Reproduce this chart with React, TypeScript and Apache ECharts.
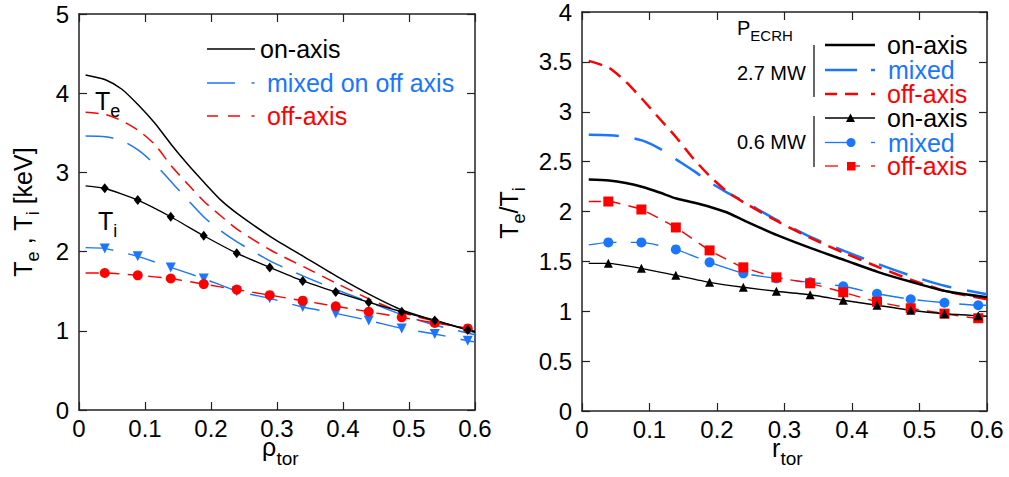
import React, { useEffect, useRef } from 'react';
import * as echarts from 'echarts';

const BLUE = '#1a75ff';
const RED = '#ff0000';
const BLACK = '#000000';
const AXIS = '#222222';
const FONT = '"Liberation Sans", Arial, Helvetica, sans-serif';

// ---- Left panel: Te, Ti [keV] vs rho_tor ----
const rhoSmooth = [0.01, 0.04, 0.065, 0.09, 0.115, 0.14, 0.165, 0.19, 0.215, 0.24, 0.29, 0.34, 0.39, 0.44, 0.49, 0.54, 0.6];
const teOnAxis = [4.23, 4.17, 4.05, 3.85, 3.62, 3.35, 3.1, 2.87, 2.65, 2.48, 2.19, 1.94, 1.69, 1.46, 1.26, 1.13, 0.99];
const teMixed = [3.46, 3.45, 3.4, 3.28, 3.1, 2.88, 2.65, 2.43, 2.26, 2.12, 1.88, 1.69, 1.52, 1.36, 1.2, 1.07, 0.95];
const teOffAxis = [3.76, 3.73, 3.65, 3.53, 3.35, 3.08, 2.85, 2.63, 2.45, 2.28, 2.02, 1.81, 1.6, 1.4, 1.23, 1.12, 1.0];

// profile start, measurement positions, profile end
const rhoMarked = [0.01, 0.039, 0.089, 0.139, 0.189, 0.239, 0.289, 0.339, 0.389, 0.439, 0.489, 0.539, 0.589, 0.6];
const tiOnAxis = [2.83, 2.8, 2.65, 2.44, 2.2, 1.98, 1.8, 1.63, 1.49, 1.36, 1.24, 1.13, 1.01, 0.98];
const tiMixed = [2.05, 2.04, 1.94, 1.8, 1.66, 1.5, 1.41, 1.3, 1.22, 1.13, 1.03, 0.96, 0.875, 0.86];
const tiOffAxis = [1.73, 1.73, 1.7, 1.66, 1.59, 1.52, 1.45, 1.38, 1.31, 1.24, 1.17, 1.1, 1.03, 1.02];

// ---- Right panel: Te/Ti vs r_tor ----
const rSmooth = [0.01, 0.04, 0.065, 0.09, 0.115, 0.14, 0.165, 0.19, 0.215, 0.24, 0.29, 0.34, 0.39, 0.44, 0.49, 0.54, 0.6];
const ratioHighOn = [2.32, 2.31, 2.285, 2.245, 2.19, 2.13, 2.09, 2.045, 1.99, 1.91, 1.76, 1.63, 1.51, 1.39, 1.29, 1.2, 1.14];
const ratioHighMixed = [2.77, 2.765, 2.75, 2.71, 2.63, 2.52, 2.41, 2.29, 2.19, 2.1, 1.91, 1.74, 1.6, 1.47, 1.35, 1.25, 1.17];
const ratioHighOff = [3.51, 3.44, 3.3, 3.12, 2.93, 2.74, 2.53, 2.35, 2.2, 2.09, 1.9, 1.73, 1.58, 1.44, 1.31, 1.2, 1.12];

const rMarked = [0.01, 0.039, 0.088, 0.139, 0.189, 0.239, 0.288, 0.338, 0.387, 0.437, 0.487, 0.537, 0.587, 0.6];
const ratioLowOn = [1.48, 1.48, 1.43, 1.36, 1.29, 1.24, 1.2, 1.165, 1.11, 1.06, 1.01, 0.975, 0.955, 0.95];
const ratioLowMixed = [1.665, 1.69, 1.69, 1.62, 1.49, 1.38, 1.33, 1.29, 1.25, 1.175, 1.12, 1.085, 1.06, 1.06];
const ratioLowOff = [2.1, 2.1, 2.02, 1.84, 1.61, 1.44, 1.34, 1.28, 1.19, 1.095, 1.03, 0.976, 0.93, 0.93];

const leftXTicks = { min: 0, max: 0.6, interval: 0.1 };
const leftYTicks = { min: 0, max: 5, interval: 1 };
const rightXTicks = { min: 0, max: 0.6, interval: 0.1 };
const rightYTicks = { min: 0, max: 4, interval: 0.5 };

const pairs = (xs: number[], ys: number[]) => xs.map((x, i) => [x, ys[i]]);
// first and last points continue the curve but carry no marker
const marked = (xs: number[], ys: number[]) =>
  xs.map((x, i) => (i === 0 || i === xs.length - 1 ? { value: [x, ys[i]], symbol: 'none' } : [x, ys[i]]));

const fmt = (v: number) => String(+v.toFixed(1));

function makeAxis(kind: 'x' | 'y', gridIndex: number, position: string, ticks: any, showLabel: boolean) {
  return {
    type: 'value',
    gridIndex,
    position,
    min: ticks.min,
    max: ticks.max,
    interval: ticks.interval,
    axisLine: { show: true, onZero: false, lineStyle: { color: AXIS, width: 1.5 } },
    axisTick: { show: true, inside: true, length: 8, lineStyle: { color: AXIS, width: 1.2 } },
    axisLabel: {
      show: showLabel,
      color: BLACK,
      fontSize: 24,
      fontFamily: FONT,
      lineHeight: 20,
      margin: kind === 'x' ? 8 : 10,
      formatter: fmt,
    },
    splitLine: { show: false },
  };
}

function lineSeries(xIdx: number, yIdx: number, data: any[], color: string, width: number, dash: any, extra: any = {}) {
  return {
    type: 'line',
    xAxisIndex: xIdx,
    yAxisIndex: yIdx,
    data,
    smooth: 0.25,
    symbol: 'none',
    silent: true,
    lineStyle: { color, width, type: dash },
    itemStyle: { color },
    ...extra,
  };
}

const seg = (x1: number, y1: number, x2: number, y2: number, color: string, w: number) => ({
  type: 'line',
  silent: true,
  shape: { x1, y1, x2, y2 },
  style: { stroke: color, lineWidth: w },
});

const txt = (text: string, x: number, y: number, color: string, size: number, lineHeight = 22) => ({
  type: 'text',
  silent: true,
  x,
  y,
  style: { text, fill: color, fontSize: size, fontFamily: FONT, align: 'left', verticalAlign: 'middle', lineHeight },
});

// text with a subscript: main font, subscript font and the line height that sets the drop
const subText = (
  text: string, x: number, y: number, mainSize: number, subSize: number, lineH: number,
  align: string = 'left', rotation = 0,
) => ({
  type: 'text',
  silent: true,
  x,
  y,
  rotation,
  style: {
    text,
    fill: BLACK,
    fontFamily: FONT,
    align,
    verticalAlign: 'middle',
    rich: {
      m: { fontSize: mainSize, fontFamily: FONT, fill: BLACK, color: BLACK, lineHeight: lineH, verticalAlign: 'middle' },
      s: { fontSize: subSize, fontFamily: FONT, fill: BLACK, color: BLACK, lineHeight: subSize, verticalAlign: 'bottom' },
    },
  },
});

export default function App() {
  const ref = useRef<HTMLDivElement>(null);

  useEffect(() => {
    if (!ref.current) return;
    const chart = echarts.init(ref.current, undefined, { renderer: 'svg' });

    const longDash = [28, 15];
    const shortDash = [13, 8];

    const option: any = {
      animation: false,
      backgroundColor: '#ffffff',
      grid: [
        { left: 79, top: 14, width: 396, height: 396, containLabel: false },
        { left: 582, top: 8, width: 405, height: 403, containLabel: false },
      ],
      xAxis: [
        makeAxis('x', 0, 'bottom', leftXTicks, true),
        makeAxis('x', 0, 'top', leftXTicks, false),
        makeAxis('x', 1, 'bottom', rightXTicks, true),
        makeAxis('x', 1, 'top', rightXTicks, false),
      ],
      yAxis: [
        makeAxis('y', 0, 'left', leftYTicks, true),
        makeAxis('y', 0, 'right', leftYTicks, false),
        makeAxis('y', 1, 'left', rightYTicks, true),
        makeAxis('y', 1, 'right', rightYTicks, false),
      ],
      series: [
        // left: electron temperature
        lineSeries(0, 0, pairs(rhoSmooth, teMixed), BLUE, 1.5, longDash),
        lineSeries(0, 0, pairs(rhoSmooth, teOffAxis), RED, 1.5, shortDash),
        lineSeries(0, 0, pairs(rhoSmooth, teOnAxis), BLACK, 1.5, 'solid'),
        // left: ion temperature
        lineSeries(0, 0, marked(rhoMarked, tiMixed), BLUE, 1.4, longDash, {
          symbol: 'triangle', symbolRotate: 180, symbolSize: 10, showSymbol: true, smooth: 0.15,
        }),
        lineSeries(0, 0, marked(rhoMarked, tiOffAxis), RED, 1.4, shortDash, {
          symbol: 'circle', symbolSize: 10, showSymbol: true, smooth: 0.15,
        }),
        lineSeries(0, 0, marked(rhoMarked, tiOnAxis), BLACK, 1.4, 'solid', {
          symbol: 'diamond', symbolSize: [8, 10], showSymbol: true, smooth: 0.15,
        }),
        // right: 2.7 MW
        lineSeries(2, 2, pairs(rSmooth, ratioHighMixed), BLUE, 2.5, [30, 16]),
        lineSeries(2, 2, pairs(rSmooth, ratioHighOff), RED, 2.5, [14, 8]),
        lineSeries(2, 2, pairs(rSmooth, ratioHighOn), BLACK, 2.5, 'solid'),
        // right: 0.6 MW
        lineSeries(2, 2, marked(rMarked, ratioLowMixed), BLUE, 1.4, [28, 14], {
          symbol: 'circle', symbolSize: 10, showSymbol: true, smooth: 0.15,
        }),
        lineSeries(2, 2, marked(rMarked, ratioLowOff), RED, 1.4, [12, 8], {
          symbol: 'rect', symbolSize: 10, showSymbol: true, smooth: 0.15,
        }),
        lineSeries(2, 2, marked(rMarked, ratioLowOn), BLACK, 1.4, 'solid', {
          symbol: 'triangle', symbolSize: 9, showSymbol: true, smooth: 0.15,
        }),
      ],
      graphic: [
        // left legend
        seg(207, 49, 255, 49, BLACK, 1.5),
        txt('on-axis', 260, 49, BLACK, 25),
        seg(207, 83, 235, 83, BLUE, 1.5),
        seg(251.5, 83, 254.5, 83, BLUE, 1.5),
        txt('mixed on off axis', 267, 83, BLUE, 25),
        seg(207, 116, 218, 116, RED, 1.5),
        seg(228, 116, 240, 116, RED, 1.5),
        seg(251.5, 116, 254.5, 116, RED, 1.5),
        txt('off-axis', 267, 116, RED, 25),
        // curve annotations
        subText('{m|T}{s|e}', 95, 101, 25, 18, 38),
        subText('{m|T}{s|i}', 98, 221, 25, 18, 38),
        // left axis titles
        txt('ρ', 262, 447, BLACK, 25, 18),
        txt('tor', 276.5, 458, BLACK, 19, 15),
        subText('{m|T}{s|e}{m| , T}{s|i}{m| [keV]}', 23, 212, 25, 18, 38, 'center', Math.PI / 2),
        // right axis titles
        txt('r', 772, 448, BLACK, 25, 18),
        txt('tor', 780.5, 458, BLACK, 19, 15),
        subText('{m|T}{s|e}{m|/T}{s|i}', 509, 213, 25, 18, 38, 'center', Math.PI / 2),
        // right legend
        subText('{m|P}{s|ECRH}', 737, 28, 20, 15, 29),
        txt('2.7 MW', 737, 73, BLACK, 20),
        txt('0.6 MW', 737, 142, BLACK, 20),
        seg(814, 45, 814, 97, BLACK, 1.2),
        seg(814, 116, 814, 167, BLACK, 1.2),
        seg(825, 45, 875, 45, BLACK, 2.5),
        txt('on-axis', 887, 45, BLACK, 25),
        seg(825, 70, 857, 70, BLUE, 2.5),
        seg(871, 70, 875, 70, BLUE, 2.5),
        txt('mixed', 888, 70, BLUE, 25),
        seg(825, 94, 837, 94, RED, 2.5),
        seg(845, 94, 858, 94, RED, 2.5),
        seg(871, 94, 875, 94, RED, 2.5),
        txt('off-axis', 887, 94, RED, 25),
        seg(825, 118, 875, 118, BLACK, 1.3),
        { type: 'polygon', silent: true, shape: { points: [[850.5, 113.5], [846, 122], [855, 122]] }, style: { fill: BLACK } },
        txt('on-axis', 887, 118, BLACK, 25),
        seg(825, 142.5, 851, 142.5, BLUE, 1.3),
        { type: 'circle', silent: true, shape: { cx: 851, cy: 142.5, r: 4.5 }, style: { fill: BLUE } },
        seg(871, 142.5, 875, 142.5, BLUE, 1.3),
        txt('mixed', 888, 142.5, BLUE, 25),
        seg(825, 166, 838, 166, RED, 1.3),
        { type: 'rect', silent: true, shape: { x: 847, y: 162, width: 8.5, height: 8.5 }, style: { fill: RED } },
        seg(855, 166, 860, 166, RED, 1.3),
        seg(871, 166, 875, 166, RED, 1.3),
        txt('off-axis', 887, 166, RED, 25),
      ],
    };

    chart.setOption(option);
    return () => chart.dispose();
  }, []);

  return (
    <div
      ref={ref}
      style={{ position: 'absolute', left: 0, top: 0, width: 1009, height: 477, background: '#ffffff' }}
    />
  );
}
